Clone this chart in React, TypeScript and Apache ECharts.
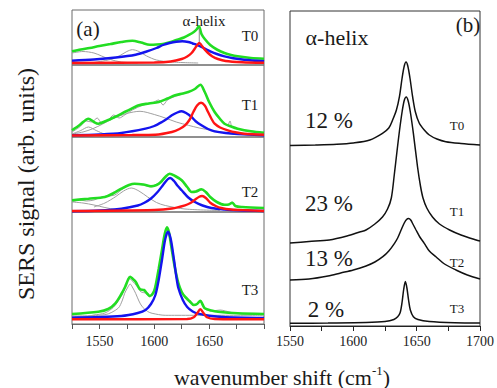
import React, { useEffect, useRef } from "react";
import * as echarts from "echarts";

type P = [number, number];

// ---- Panel (a): deconvolved amide I region, four samples ----
const t0Green: P[] = [[1525,13.7],[1533,15.5],[1541,17],[1550,19],[1560,21],[1570,23],[1580,24.3],[1588,22.5],[1596,20.3],[1602,20.5],[1609,21.3],[1615,23],[1621,25.3],[1627,27.5],[1632,30.3],[1636,33],[1638.5,35.5],[1640.7,38.7],[1643,31],[1646,26],[1651,20],[1657,15.5],[1664,12],[1670,10],[1676,8.7],[1688,7],[1700,6.3]];
const t0Blue: P[] = [[1525,4.3],[1545,5.5],[1565,7.5],[1583,10.3],[1593,13.5],[1602,17],[1608,20],[1614,22],[1620,23.3],[1625.5,23.7],[1631,23],[1635,21.5],[1639,20],[1645,17],[1651,13.7],[1657,11],[1664,8.7],[1672,6.8],[1682,5.3],[1700,3.7]];
const t0Red: P[] = [[1525,2],[1600,2.5],[1615,3.5],[1625,6],[1630,8.5],[1634,12],[1637,16.5],[1639.5,20.5],[1641,22],[1642.5,20.5],[1645.5,16],[1649,12],[1653,8.5],[1658,6],[1665,4],[1680,2.8],[1700,2.2]];
const t0GrayA: P[] = [[1525,12],[1535,13.5],[1545,12],[1552,9],[1560,5.5],[1570,3],[1585,2]];
const t0GrayB: P[] = [[1545,2.5],[1560,5.5],[1568,9],[1575,13.5],[1580,15.3],[1586,13.5],[1593,9],[1602,5],[1615,3],[1640,2]];

const t1Raw: P[] = [[1525,5],[1532,10],[1538,16],[1543,15],[1548,19],[1552,14],[1558,17],[1563,22],[1568,19],[1573,22],[1580,27],[1590,32],[1598,34],[1604,37],[1608,32],[1612,37],[1620,41],[1628,44],[1634,46],[1638,49],[1642,52],[1646,44],[1651,33],[1656,24],[1662,16],[1667,12],[1669,16],[1671,10],[1680,7],[1690,5],[1700,4]];
const t1Green: P[] = [[1525,6.7],[1532,12],[1540,18.3],[1545,15],[1549,13.3],[1556,16],[1564,20],[1575,26],[1586,31.7],[1595,33.5],[1604,35],[1612,38.5],[1619,41.7],[1626,43.5],[1631,45],[1637,48],[1642,52.3],[1646,45],[1650,35],[1655,25],[1660,18],[1664,13.3],[1670,10.5],[1676,8.3],[1688,5.7],[1700,4.3]];
const t1Blue: P[] = [[1525,1.7],[1550,2.5],[1570,4],[1592,8.3],[1600,11],[1607,15],[1612,18.5],[1616,21.7],[1621,24.5],[1625,25.7],[1629,24],[1634,20],[1638,15.5],[1643,11.7],[1649,8],[1655,5.7],[1665,4],[1676,3],[1700,1.7]];
const t1Red: P[] = [[1525,1.5],[1580,2],[1601,2.3],[1616,5],[1623,8],[1628,11.7],[1632,17],[1635.6,25],[1639,31.5],[1642.6,34.3],[1646,31.5],[1649,25],[1652,18.5],[1655,13.3],[1660,9.5],[1667,6.7],[1675,4.5],[1682,3.3],[1700,2.3]];
const t1GrayA: P[] = [[1525,3],[1533,6.5],[1540,10],[1547,6.5],[1555,3],[1570,1.5]];
const t1GrayB: P[] = [[1525,3],[1535,5],[1544,8.3],[1553,13],[1562,18.3],[1575,23.5],[1587,25.7],[1600,22.5],[1610,19],[1620,15],[1631,11.7],[1641,9],[1652,6.7],[1670,3.3],[1700,1.5]];

const t2Raw: P[] = [[1525,10],[1532,12],[1538,11],[1545,12],[1552,15],[1558,16],[1564,17],[1570,22],[1577,27],[1582,28],[1590,27],[1597,25],[1602,27],[1606,30],[1610,35],[1614,38],[1619,36],[1625,31],[1630,25],[1634,20],[1638,20],[1643,22],[1647,19],[1651,14],[1657,10],[1664,7],[1668,8],[1671,10],[1674,6],[1680,5],[1690,4.5],[1700,4]];
const t2Green: P[] = [[1525,11.7],[1540,13.3],[1555,15],[1563,19],[1570,23.3],[1577,27],[1582,28.3],[1590,27.5],[1597,25.7],[1602,27],[1606,30],[1610,35],[1614,38.3],[1619,36],[1625,31.7],[1630,25],[1634,20],[1638,20.5],[1643,22.7],[1647,20],[1651,15],[1657,10],[1664,7.3],[1668,7.5],[1671,9.3],[1674,6],[1680,5],[1700,4]];
const t2Blue: P[] = [[1525,0.7],[1550,1.5],[1570,3.3],[1585,6.5],[1591,9.3],[1597,13.5],[1603,20],[1608,27],[1612,32.5],[1614.5,34],[1618,31],[1621,26.5],[1625,21.7],[1631,14.5],[1637,10],[1644,6.5],[1652,4],[1664,2.5],[1676,1.7],[1700,1]];
const t2Red: P[] = [[1525,1],[1600,2],[1616,3.5],[1628,6.7],[1633,9],[1637,12.3],[1641,15.3],[1643.6,16],[1647,14],[1651,9.3],[1656,6],[1661,4],[1670,2.5],[1685,1.7],[1700,1]];
const t2GrayA: P[] = [[1525,10],[1535,9],[1545,7],[1555,4.5],[1565,2.5],[1580,1.5]];
const t2GrayB: P[] = [[1545,5],[1555,9],[1565,15.5],[1572,21],[1579,24],[1586,21],[1594,15],[1602,9.5],[1610,6.5],[1628,3],[1660,1.5]];

const t3Raw: P[] = [[1525,8],[1535,7],[1545,9],[1555,11],[1563,17],[1570,28],[1574,38],[1577,46],[1580,43],[1584,38],[1588,32],[1592,31],[1596,27],[1600,35],[1604,54],[1608,80],[1611.6,96],[1615,80],[1619,54],[1623,38],[1628,26],[1633,21],[1638,19],[1642,22],[1646,15],[1652,13],[1660,14],[1665,13],[1675,10.5],[1690,10],[1700,10]];
const t3Green: P[] = [[1525,10],[1549,12.3],[1558,15],[1564.5,20.7],[1570,30],[1573.5,37.3],[1576,44],[1578,47.3],[1580,45.5],[1583,42.3],[1587,34.7],[1590.6,34],[1593,31],[1596,28],[1599,31],[1601,37.3],[1604,55],[1607,74],[1609.5,90],[1611.6,96.7],[1613.5,91],[1616,74],[1619,55],[1622,40.7],[1625,32],[1628,27.3],[1632,23],[1636,19],[1639,20],[1642,23.3],[1644,19.5],[1646,15.7],[1652,13.5],[1658,12.3],[1676,10.7],[1700,10]];
const t3Blue: P[] = [[1525,6.3],[1570,8],[1585,11],[1592,14],[1597,20],[1601,29],[1604,44],[1607,64],[1610,85],[1612.5,92.3],[1615,85],[1618,64],[1620,48],[1622,35.7],[1626,24],[1630,17],[1635,12.5],[1640,10.3],[1650,8.3],[1662,7],[1700,6]];
const t3Red: P[] = [[1525,4.7],[1630,5],[1636,6.7],[1639,10.7],[1642,14.7],[1645,10.7],[1648,6.7],[1655,5],[1700,4.7]];
const t3Gray: P[] = [[1525,8],[1555,9.3],[1567,15.7],[1571,24],[1573,30.7],[1576,37],[1578,40],[1580,37],[1583,30.7],[1586,23],[1589,17.3],[1594,12.5],[1598,10.7],[1610,8.7],[1700,8.7]];

// alpha-helix marker (panel a, T0)
const helixMark: P[] = [[1641, 37], [1641, 23]];

// ---- Panel (b): alpha-helix component, offset traces ----
const bT0: P[] = [[1550,180.5],[1570,181],[1587,181.7],[1600,183],[1613,186],[1623,192.7],[1628,198],[1631,206],[1634,216],[1636.4,229.3],[1638.5,248],[1640.2,260],[1641.6,264],[1643,260],[1644.7,248],[1646.8,229.3],[1649,214],[1652,203],[1656,196],[1660,191],[1666,187],[1673,184.3],[1685,182.5],[1700,181]];
const bT1: P[] = [[1550,83],[1565,84.5],[1581,86],[1595,90],[1605,94],[1610,96],[1617,102],[1623,109],[1627,117],[1630,128],[1632.4,152],[1634.5,175],[1636.4,195],[1638.6,215],[1640.3,226],[1641.8,229],[1643.3,225],[1645,214],[1647.4,192.7],[1650.7,159],[1653,140],[1655,128],[1658,118],[1662.5,109],[1668,102],[1676,96],[1685,91],[1697,86],[1700,85]];
const bT2: P[] = [[1550,46],[1565,47],[1580,50],[1590,53],[1600,56],[1610,60],[1617,64],[1623.3,69.3],[1628,75],[1632.5,82.7],[1635,88],[1637.7,96],[1640.2,103],[1642,106.5],[1643.7,107.5],[1645.3,106],[1647,102],[1649.5,96],[1652.5,89],[1656,82.7],[1660,75],[1665.2,69.3],[1672,62],[1681,56],[1690,51],[1700,47]];
const bT3: P[] = [[1550,2.7],[1580,3],[1610,3.5],[1625,4.5],[1632,6.5],[1635,9.3],[1637,13.5],[1638.5,24],[1639.8,37],[1641.1,44.5],[1642.3,38],[1643.6,26],[1645,16],[1647.4,9.3],[1651,6.5],[1660,4.5],[1680,3.3],[1700,3]];

const samples = ["T0", "T1", "T2", "T3"];
const helixPercent = ["12 %", "23 %", "13 %", "2 %"];
const leftTicks = [1550, 1600, 1650];
const rightTicks = [1550, 1600, 1650, 1700];

const SERIF = "Liberation Serif";
const GREEN = "#22dd22";
const BLUE = "#1414ee";
const RED = "#ff1414";
const GRAY = "#a0a0a0";

function line(data: P[], idx: number, color: string, width: number, extra: any = {}) {
  return {
    type: "line",
    xAxisIndex: idx,
    yAxisIndex: idx,
    data,
    showSymbol: false,
    symbol: "none",
    smooth: 0.3,
    lineStyle: { color, width },
    silent: true,
    ...extra,
  };
}

export default function App() {
  const ref = useRef<HTMLDivElement>(null);
  useEffect(() => {
    const chart = echarts.init(ref.current!, null, { renderer: "svg" });

    const leftGrids = [
      { top: 10, height: 55, ymax: 55 },
      { top: 65, height: 72, ymax: 72 },
      { top: 137, height: 75, ymax: 75 },
      { top: 212, height: 112, ymax: 112 },
    ];
    const grid: any[] = leftGrids.map((g) => ({
      left: 72, width: 192, top: g.top, height: g.height,
      show: true, borderColor: "#6a6a6a", borderWidth: 1, backgroundColor: "transparent",
    }));
    grid.push({ left: 290, width: 191, top: 11, height: 315, show: true, borderColor: "#333", borderWidth: 1, backgroundColor: "transparent" });

    const xAxis: any[] = leftGrids.map((_, i) => ({
      type: "value", gridIndex: i, min: 1525, max: 1700, interval: 25,
      show: i === 3,
      axisLine: { show: true, lineStyle: { color: "#6a6a6a" } },
      axisTick: { show: true, inside: false, length: 5, lineStyle: { color: "#555" } },
      splitLine: { show: false },
      axisLabel: {
        interval: 0, margin: 10, fontFamily: SERIF, fontSize: 14, color: "#222",
        formatter: (v: number) => (leftTicks.includes(v) ? String(v) : ""),
      },
    }));
    xAxis.push({
      type: "value", gridIndex: 4, min: 1550, max: 1700, interval: 25,
      axisLine: { show: true, lineStyle: { color: "#222" } },
      axisTick: { show: true, inside: false, length: 5, lineStyle: { color: "#222" } },
      splitLine: { show: false },
      axisLabel: {
        interval: 0, margin: 8, fontFamily: SERIF, fontSize: 14, color: "#222",
        formatter: (v: number) => (rightTicks.includes(v) ? String(v) : ""),
      },
    });
    const yAxis: any[] = leftGrids.map((g, i) => ({
      type: "value", gridIndex: i, min: 0, max: g.ymax, show: false, splitLine: { show: false },
    }));
    yAxis.push({ type: "value", gridIndex: 4, min: 0, max: 315, show: false, splitLine: { show: false } });

    const series: any[] = [
      line(t0GrayA, 0, GRAY, 1),
      line(t0GrayB, 0, GRAY, 1),
      line(t0Green, 0, GREEN, 2.6),
      line(t0Blue, 0, BLUE, 2.4),
      line(t0Red, 0, RED, 2.4),
      line(helixMark, 0, "#888", 1, { smooth: false }),

      line(t1GrayA, 1, GRAY, 1),
      line(t1GrayB, 1, GRAY, 1),
      line(t1Raw, 1, GRAY, 1),
      line(t1Green, 1, GREEN, 2.6),
      line(t1Blue, 1, BLUE, 2.4),
      line(t1Red, 1, RED, 2.4),

      line(t2GrayA, 2, GRAY, 1),
      line(t2GrayB, 2, GRAY, 1),
      line(t2Raw, 2, GRAY, 1),
      line(t2Green, 2, GREEN, 2.6),
      line(t2Blue, 2, BLUE, 2.4),
      line(t2Red, 2, RED, 2.4),

      line(t3Gray, 3, GRAY, 1),
      line(t3Raw, 3, GRAY, 1),
      line(t3Green, 3, GREEN, 2.6),
      line(t3Blue, 3, BLUE, 2.4),
      line(t3Red, 3, RED, 2.4),

      line(bT0, 4, "#111", 1.5),
      line(bT1, 4, "#111", 1.5),
      line(bT2, 4, "#111", 1.5),
      line(bT3, 4, "#111", 1.5),
    ];

    const txt = (text: string, x: number, y: number, size: number, extra: any = {}) => ({
      type: "text", x, y, silent: true,
      style: { text, fontFamily: SERIF, fontSize: size, fill: "#1a1a1a", align: "center", verticalAlign: "middle" },
      ...extra,
    });

    const leftLabelY = [36, 105, 192, 290];
    const rightLabelY = [125, 211, 262, 308];
    const pctY = [120, 203, 258, 309];
    const graphic: any[] = [
      txt("(a)", 88, 29, 21),
      txt("α-helix", 204, 21, 15),
      txt("α-helix", 337, 37, 22),
      txt("(b)", 468, 25, 21),
      ...samples.map((s, i) => txt(s, 250, leftLabelY[i], 15)),
      ...samples.map((s, i) => txt(s, 457, rightLabelY[i], 13)),
      ...helixPercent.map((p, i) => txt(p, i === 3 ? 326 : 329, pctY[i], 23)),
      txt("SERS signal (arb. units)", 26, 184, 24, { rotation: Math.PI / 2 }),
      {
        type: "text", x: 282, y: 376, silent: true,
        style: {
          text: "{a|wavenumber shift (cm}{s|-1}{a|)}",
          align: "center", verticalAlign: "middle", fill: "#1a1a1a",
          rich: {
            a: { fontFamily: SERIF, fontSize: 22, lineHeight: 24, verticalAlign: "bottom", fill: "#1a1a1a" },
            s: { fontFamily: SERIF, fontSize: 13, lineHeight: 24, verticalAlign: "top", fill: "#1a1a1a" },
          },
        },
      },
    ];

    chart.setOption({ animation: false, backgroundColor: "#fff", grid, xAxis, yAxis, series, graphic });
    return () => chart.dispose();
  }, []);
  return <div ref={ref} style={{ position: "fixed", left: 0, top: 0, width: 497, height: 388 }} />;
}
